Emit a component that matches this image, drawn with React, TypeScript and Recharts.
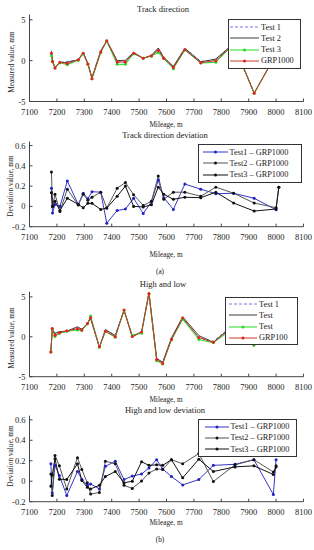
import { LineChart, Line, XAxis, YAxis } from 'recharts'

const FONT = '"Liberation Serif", "DejaVu Serif", "Times New Roman", serif'

const mileageTicks = [7100, 7200, 7300, 7400, 7500, 7600, 7700, 7800, 7900, 8000, 8100]
const valueTicks = [-5, 0, 5]
const devTicks = [-0.2, 0, 0.2, 0.4, 0.6]

// (a) track direction
const trackMileage = [7180, 7184, 7193, 7211, 7238, 7278, 7296, 7313, 7328, 7360, 7382, 7420, 7450, 7480, 7515, 7545, 7570, 7590, 7625, 7667, 7725, 7780, 7845, 7920, 8000, 8010]
const trackGrp = [0.9, -0.1, -0.9, -0.2, -0.35, 0.1, 0.9, -0.4, -2.2, 1.05, 2.45, -0.15, -0.15, 0.9, 0.3, 0.6, 1.25, 0.3, -0.85, 1.35, -0.25, 0.0, 2.0, -4.0, 0.8, 1.2]
const trackTest1 = [1.05, -0.15, -0.9, -0.2, -0.1, 0.1, 1.0, -0.35, -2.05, 1.2, 2.3, -0.2, -0.2, 1.0, 0.25, 0.65, 1.5, 0.4, -0.9, 1.55, -0.1, 0.1, 2.1, -3.9, 0.75, 1.2]
const trackTest2 = [1.2, -0.1, -0.8, -0.25, -0.2, 0.1, 1.0, -0.35, -2.1, 1.2, 2.45, 0.0, 0.05, 1.0, 0.3, 0.65, 1.55, 0.4, -0.7, 1.5, -0.15, 0.2, 2.1, -4.0, 0.8, 1.4]
const trackTest3 = [0.6, -0.1, -0.9, -0.25, -0.5, 0.05, 0.85, -0.45, -2.2, 1.0, 2.4, -0.45, -0.45, 0.85, 0.3, 0.55, 1.0, 0.25, -1.0, 1.3, -0.3, -0.2, 2.0, -4.0, 0.8, 1.2]
const trackDev1 = [0.18, -0.066, 0.02, 0.0, 0.25, 0.02, 0.13, 0.076, 0.145, 0.14, -0.165, -0.04, -0.026, 0.08, -0.07, 0.046, 0.26, 0.086, -0.03, 0.22, 0.17, 0.125, 0.13, 0.08, -0.033, null]
const trackDev2 = [0.34, 0.0, 0.12, -0.05, 0.17, 0.013, 0.12, 0.06, 0.09, 0.14, -0.016, 0.18, 0.235, 0.115, 0.01, 0.05, 0.3, 0.07, 0.14, 0.14, 0.1, 0.19, 0.13, 0.033, -0.013, 0.19]
const trackDev3 = [0.135, 0.0, 0.05, -0.04, 0.08, 0.02, -0.013, 0.03, 0.03, -0.03, -0.016, 0.1, 0.2, 0.0, -0.005, 0.016, 0.19, 0.12, 0.07, 0.09, 0.086, 0.14, 0.033, -0.046, -0.026, 0.19]

// (b) high and low
const hlMileage = [7178, 7183, 7193, 7209, 7236, 7275, 7291, 7311, 7323, 7355, 7377, 7413, 7445, 7475, 7509, 7536, 7564, 7586, 7618, 7659, 7718, 7771, 7850, 7919, 7990, 8000]
const hlGrp = [-1.9, 1.05, 0.2, 0.5, 0.75, 1.0, 0.85, 1.65, 2.4, -1.25, 0.7, 0.0, 3.35, 0.05, 0.6, 5.4, -2.85, -3.35, -0.35, 2.35, -0.1, -0.7, 1.5, -0.9, 0.5, 1.0]
const hlTest1 = [-1.75, 0.95, 0.35, 0.55, 0.6, 1.1, 0.85, 1.6, 2.4, -1.3, 0.85, 0.2, 3.35, 0.05, 0.65, 5.5, -2.65, -3.25, -0.3, 2.3, -0.1, -0.55, 1.65, -0.7, 0.35, 1.2]
const hlTest2 = [-1.85, 0.9, 0.45, 0.65, 0.7, 1.25, 0.95, 1.65, 2.3, -1.35, 0.9, 0.15, 3.3, -0.02, 0.6, 5.55, -2.7, -3.2, -0.15, 2.5, 0.15, -0.7, 1.65, -0.7, 0.6, 1.15]
const hlTest3 = [-1.9, 1.0, 0.05, 0.45, 0.7, 0.85, 0.8, 1.6, 2.6, -1.3, 0.65, -0.05, 3.3, 0.2, 0.45, 5.4, -3.0, -3.4, -0.4, 2.2, -0.35, -0.75, 1.2, -1.1, 0.5, 1.0]
const hlDev1 = [0.17, -0.115, 0.155, 0.056, -0.14, 0.095, 0.02, -0.04, -0.026, -0.075, 0.145, 0.195, 0.016, 0.05, 0.07, 0.13, 0.21, 0.12, 0.046, -0.036, 0.016, 0.155, 0.165, 0.21, -0.13, 0.21]
const hlDev2 = [0.07, -0.14, 0.25, 0.15, -0.075, 0.23, 0.115, -0.016, -0.125, -0.11, 0.195, 0.17, -0.04, -0.07, 0.003, 0.08, 0.12, 0.115, 0.21, 0.17, 0.27, -0.003, 0.16, 0.21, 0.09, 0.14]
const hlDev3 = [-0.05, 0.06, 0.22, 0.02, 0.016, 0.17, 0.006, -0.06, -0.075, -0.04, 0.046, 0.095, -0.016, 0.0, 0.19, 0.155, 0.16, 0.155, 0.21, 0.033, 0.215, 0.095, 0.14, 0.15, 0.066, 0.15]

type Series = { key: string; name: string; color: string; dash?: string; dot?: string }

const measuredSeries = (names: string[]): Series[] => [
  { key: 't1', name: names[0], color: '#7878e0', dash: '3 2' },
  { key: 't2', name: names[1], color: '#3a3a3a' },
  { key: 't3', name: names[2], color: '#22dd22', dot: '#22dd22' },
  { key: 'grp', name: names[3], color: '#c83a2a', dot: '#ee1c1c' },
]

const devSeries: Series[] = [
  { key: 'd1', name: 'Test1 – GRP1000', color: '#3434c8', dot: '#2222c0' },
  { key: 'd2', name: 'Test2 – GRP1000', color: '#555555', dot: '#111111' },
  { key: 'd3', name: 'Test3 – GRP1000', color: '#111111', dot: '#111111' },
]

const trackRows = trackMileage.map((m, i) => ({ m, t1: trackTest1[i], t2: trackTest2[i], t3: trackTest3[i], grp: trackGrp[i] }))
const trackDevRows = trackMileage.map((m, i) => ({ m, d1: trackDev1[i], d2: trackDev2[i], d3: trackDev3[i] }))
const hlRows = hlMileage.map((m, i) => ({ m, t1: hlTest1[i], t2: hlTest2[i], t3: hlTest3[i], grp: hlGrp[i] }))
const hlDevRows = hlMileage.map((m, i) => ({ m, d1: hlDev1[i], d2: hlDev2[i], d3: hlDev3[i] }))

const tickStyle = { fill: '#222', fontSize: 8.5, fontFamily: FONT }

function Panel({ top, boxTop, boxBottom, domain, yTicks, rows, series }: {
  top: number; boxTop: number; boxBottom: number; domain: [number, number]; yTicks: number[]; rows: any[]; series: Series[]
}) {
  return (
    <div style={{ position: 'absolute', left: 0, top }}>
      <LineChart width={314} height={boxBottom - top + 20} data={rows}
        margin={{ top: boxTop - top, right: 10.5, bottom: 0, left: 0 }}>
        <XAxis type="number" dataKey="m" domain={[7100, 8100]} ticks={mileageTicks} interval={0}
          tickSize={-3} tickMargin={10.5} height={20} stroke="#444" tick={tickStyle} allowDataOverflow />
        <XAxis xAxisId="top" orientation="top" type="number" dataKey="m" domain={[7100, 8100]}
          ticks={mileageTicks} tick={false} tickSize={-3} height={0} stroke="#444" allowDataOverflow />
        <YAxis type="number" domain={domain} ticks={yTicks} interval={0} width={29.5}
          tickSize={-3} tickMargin={7} stroke="#444" tick={tickStyle} allowDataOverflow />
        <YAxis yAxisId="r" orientation="right" type="number" domain={domain} ticks={yTicks}
          tick={false} tickSize={-3} width={0} stroke="#444" allowDataOverflow />
        {series.map((s) => (
          <Line key={s.key} type="linear" dataKey={s.key} name={s.name} stroke={s.color} strokeWidth={1}
            strokeDasharray={s.dash} dot={s.dot ? { r: 1.5, fill: s.dot, stroke: s.dot, strokeWidth: 0 } : false}
            activeDot={false} isAnimationActive={false} />
        ))}
      </LineChart>
    </div>
  )
}

function LegendBox({ left, top, width, height, sample, pad, series }: {
  left: number; top: number; width: number; height: number; sample: number; pad: number; series: Series[]
}) {
  return (
    <div style={{
      position: 'absolute', left, top, width, height, boxSizing: 'border-box', background: '#fff',
      border: '1px solid #333', display: 'flex', flexDirection: 'column', justifyContent: 'center',
      fontFamily: FONT, fontSize: 8.3, color: '#222',
    }}>
      {series.map((s) => (
        <div key={s.key} style={{ display: 'flex', alignItems: 'center', height: 11.3, paddingLeft: pad }}>
          <svg width={sample} height={6} style={{ marginRight: 2 }}>
            <line x1={0} y1={3} x2={sample} y2={3} stroke={s.color} strokeWidth={1} strokeDasharray={s.dash} />
            {s.dot && <circle cx={sample / 2} cy={3} r={1.5} fill={s.dot} />}
          </svg>
          <span style={{ whiteSpace: 'nowrap' }}>{s.name}</span>
        </div>
      ))}
    </div>
  )
}

function Txt({ x, y, size, children, rotate }: { x: number; y: number; size: number; children: string; rotate?: boolean }) {
  return (
    <div style={{
      position: 'absolute', left: x, top: y, whiteSpace: 'nowrap', fontFamily: FONT, fontSize: size,
      color: '#222', lineHeight: 1, transform: `translate(-50%, -50%)${rotate ? ' rotate(-90deg)' : ''}`,
    }}>{children}</div>
  )
}

export default function App() {
  const s1 = measuredSeries(['Test 1', 'Test 2', 'Test 3', 'GRP1000'])
  const s3 = measuredSeries(['Test 1', 'Test', 'Test', 'GRP100'])
  return (
    <div style={{ position: 'relative', width: 314, height: 550, background: '#fff', overflow: 'hidden' }}>
      <style>{'body{margin:0}'}</style>

      <Txt x={163} y={8.5} size={8.5}>Track direction</Txt>
      <Panel top={0} boxTop={14.5} boxBottom={101.5} domain={[-5, 5.65]} yTicks={valueTicks} rows={trackRows} series={s1} />
      <LegendBox left={227.5} top={19} width={73} height={50} sample={29} pad={1.5} series={s1} />
      <Txt x={11.5} y={62} size={7.3} rotate>Measured value, mm</Txt>
      <Txt x={166} y={125} size={7.3}>Mileage, m</Txt>

      <Txt x={165} y={135} size={8.5}>Track direction deviation</Txt>
      <Panel top={130} boxTop={141.5} boxBottom={226.7} domain={[-0.2, 0.64]} yTicks={devTicks} rows={trackDevRows} series={devSeries} />
      <LegendBox left={198} top={144} width={104} height={39} sample={25} pad={3.5} series={devSeries} />
      <Txt x={10.5} y={186} size={7.3} rotate>Deviation value, mm</Txt>
      <Txt x={166} y={255} size={7.3}>Mileage, m</Txt>

      <Txt x={160} y={272} size={7.3}>(a)</Txt>
      <Txt x={163} y={284} size={8.5}>High and low</Txt>
      <Panel top={287} boxTop={291.7} boxBottom={376.7} domain={[-5, 5.65]} yTicks={valueTicks} rows={hlRows} series={s3} />
      <LegendBox left={225} top={297} width={73} height={48} sample={28} pad={3} series={s3} />
      <Txt x={11.5} y={338} size={7.3} rotate>Measured value, mm</Txt>
      <Txt x={166} y={399.5} size={7.3}>Mileage, m</Txt>

      <Txt x={165} y={410} size={8.5}>High and low deviation</Txt>
      <Panel top={405} boxTop={415.7} boxBottom={501.7} domain={[-0.2, 0.64]} yTicks={devTicks} rows={hlDevRows} series={devSeries} />
      <LegendBox left={198} top={419} width={99} height={38} sample={24} pad={5.5} series={devSeries} />
      <Txt x={10.5} y={456} size={7.3} rotate>Deviation value, mm</Txt>
      <Txt x={166} y={522.5} size={7.3}>Mileage, m</Txt>

      <Txt x={160} y={540} size={7.3}>(b)</Txt>
    </div>
  )
}
